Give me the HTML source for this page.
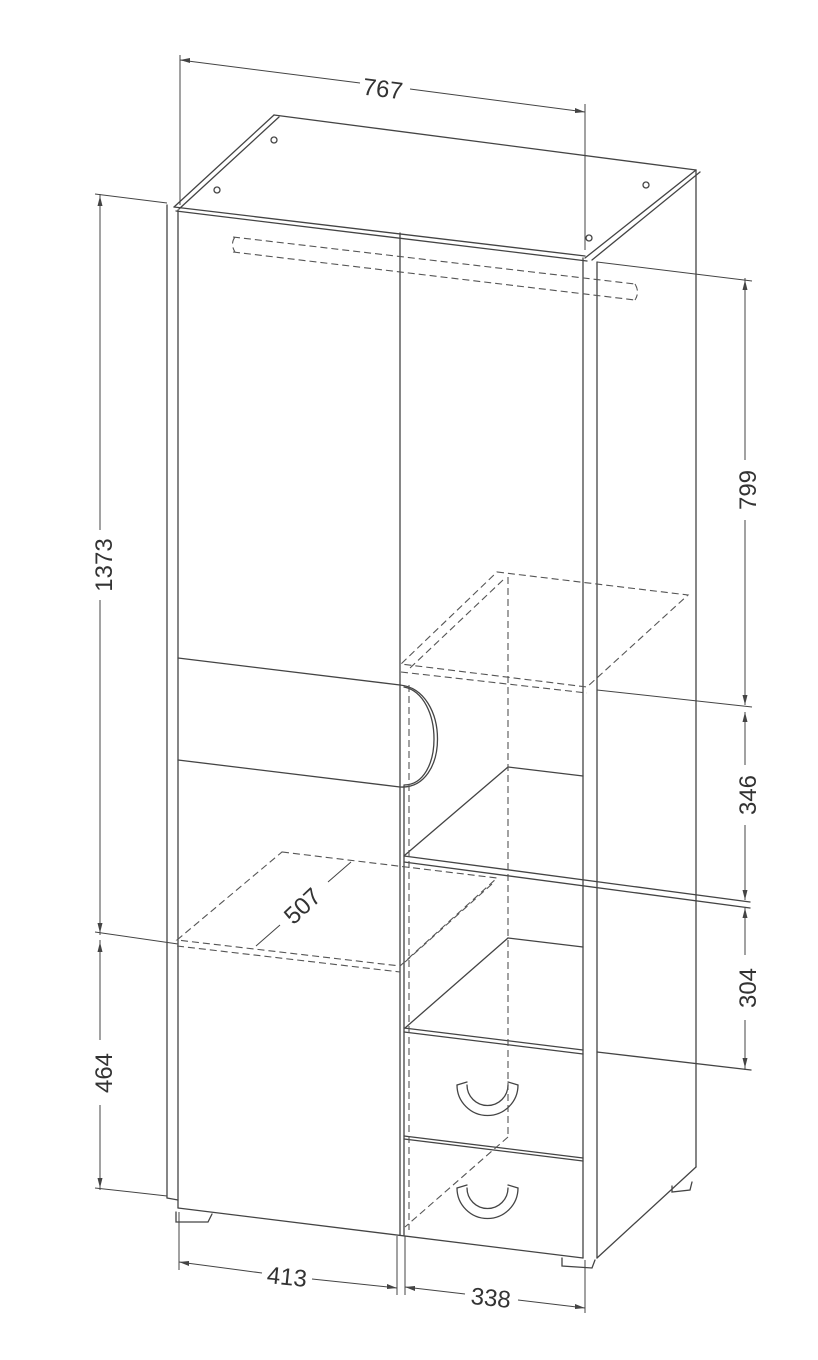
<!DOCTYPE html>
<html><head><meta charset="utf-8"><style>
html,body{margin:0;padding:0;background:#fff;}
svg{display:block;}
text{font-family:"Liberation Sans",sans-serif;font-size:24px;fill:#333;}
</style></head><body>
<svg width="818" height="1360" viewBox="0 0 818 1360" xmlns="http://www.w3.org/2000/svg">
<g stroke="#444" stroke-width="1.3" fill="none" stroke-linecap="round">
<!-- top surface -->
<line x1="174" y1="207" x2="274" y2="115"/>
<line x1="179" y1="209" x2="279" y2="117"/>
<line x1="274" y1="115" x2="696" y2="170"/>
<line x1="585" y1="258" x2="696" y2="170"/>
<line x1="592" y1="260" x2="700" y2="172"/>
<line x1="174" y1="207" x2="585" y2="256"/>
<line x1="176" y1="211" x2="587" y2="261"/>
<circle cx="274" cy="140" r="3"/><circle cx="217" cy="190" r="3"/>
<circle cx="646" cy="185" r="3"/><circle cx="589" cy="238" r="3"/>
<!-- left edge -->
<line x1="167" y1="205" x2="167" y2="1198"/>
<line x1="178" y1="210" x2="178" y2="1208"/>
<line x1="167" y1="1198" x2="178" y2="1200"/>
<!-- right panel -->
<line x1="583" y1="258" x2="583" y2="1258"/>
<line x1="597" y1="262" x2="597" y2="1258"/>
<line x1="696" y1="170" x2="696" y2="1167"/>
<line x1="696" y1="1167" x2="597" y2="1258"/>
<!-- middle divider -->
<line x1="400" y1="233" x2="400" y2="1235"/>
<line x1="404" y1="786" x2="404" y2="1235"/>
<!-- bottom -->
<line x1="178" y1="1208" x2="583" y2="1258"/>
<!-- feet -->
<path d="M176 1212 L176 1222 L208 1222 L212 1214"/>
<path d="M562 1258 L562 1266 L592 1268 L595 1260"/>
<path d="M672 1186 L672 1192 L690 1190 L692 1182"/>
<!-- left door lines and handle -->
<line x1="178" y1="658" x2="400" y2="685"/>
<line x1="178" y1="760" x2="400" y2="787"/>
<path d="M400 685 C450 690 450 790 400 787"/>
<path d="M404 687 C444 695 444 785 404 785"/>
<!-- right shelves -->
<line x1="508" y1="767" x2="583" y2="776"/>
<line x1="508" y1="767" x2="405" y2="855"/>
<line x1="404" y1="856" x2="750" y2="902"/>
<line x1="404" y1="862" x2="750" y2="908"/>
<line x1="508" y1="938" x2="583" y2="947"/>
<line x1="508" y1="938" x2="405" y2="1028"/>
<line x1="404" y1="1028" x2="583" y2="1050"/>
<line x1="404" y1="1032" x2="583" y2="1054"/>
<line x1="597" y1="1052" x2="751" y2="1070"/>
<line x1="404" y1="1136" x2="583" y2="1158"/>
<line x1="404" y1="1139" x2="583" y2="1161"/>
<!-- handles -->
<path d="M457 1085 A30 30 0 0 0 518 1085"/>
<path d="M467 1085 A20 20 0 0 0 508 1085"/>
<line x1="457" y1="1085" x2="467" y2="1082"/><line x1="508" y1="1082" x2="518" y2="1085"/>
<path d="M457 1188 A30 30 0 0 0 518 1188"/>
<path d="M467 1188 A20 20 0 0 0 508 1188"/>
<line x1="457" y1="1188" x2="467" y2="1185"/><line x1="508" y1="1185" x2="518" y2="1188"/>
</g>
<!-- dashed hidden lines -->
<g stroke="#555" stroke-width="1.1" fill="none" stroke-dasharray="7 4">
<path d="M233 237 L635 284"/><path d="M233 252 L635 300"/>
<path d="M235 237 Q230 244 235 252"/><path d="M635 284 Q640 292 635 300"/>
<path d="M497 572 L688 595 L587 687 L401 664 Z"/>
<path d="M503 580 L410 668"/>
<path d="M401 672 L587 693"/>
<line x1="508" y1="577" x2="508" y2="1137"/>
<line x1="508" y1="1137" x2="405" y2="1227"/>
<line x1="409" y1="685" x2="409" y2="1230"/>
<path d="M282 852 L497 878 L400 966 L177 940 Z"/>
<path d="M177 946 L400 972"/>
<path d="M492 884 L405 962"/>
</g>
<!-- dimension lines -->
<g stroke="#444" stroke-width="1" fill="none">
<line x1="180" y1="55" x2="180" y2="205"/>
<line x1="585" y1="104" x2="585" y2="250"/>
<line x1="180" y1="60" x2="360" y2="83"/>
<line x1="410" y1="89" x2="585" y2="112"/>
<line x1="597" y1="262" x2="752" y2="281"/>
<line x1="597" y1="690" x2="752" y2="707"/>
<line x1="745" y1="278" x2="745" y2="460"/>
<line x1="745" y1="520" x2="745" y2="705"/>
<line x1="745" y1="712" x2="745" y2="765"/>
<line x1="745" y1="825" x2="745" y2="900"/>
<line x1="745" y1="908" x2="745" y2="955"/>
<line x1="745" y1="1020" x2="745" y2="1070"/>
<line x1="95" y1="194" x2="167" y2="203"/>
<line x1="95" y1="932" x2="178" y2="944"/>
<line x1="95" y1="1188" x2="167" y2="1196"/>
<line x1="100" y1="194" x2="100" y2="530"/>
<line x1="100" y1="600" x2="100" y2="935"/>
<line x1="100" y1="940" x2="100" y2="1040"/>
<line x1="100" y1="1105" x2="100" y2="1190"/>
<line x1="179" y1="1212" x2="179" y2="1270"/>
<line x1="397" y1="1236" x2="397" y2="1295"/>
<line x1="405" y1="1236" x2="405" y2="1295"/>
<line x1="585" y1="1260" x2="585" y2="1313"/>
<line x1="179" y1="1262" x2="262" y2="1273"/>
<line x1="312" y1="1279" x2="397" y2="1288"/>
<line x1="405" y1="1287" x2="465" y2="1294"/>
<line x1="518" y1="1300" x2="585" y2="1308"/>
<line x1="256" y1="946" x2="280" y2="925"/>
<line x1="328" y1="882" x2="351" y2="862"/>
</g>
<g fill="#444">
<path d="M180 60 l10 -2 l0 5 z"/><path d="M585 112 l-10 -4 l0 5 z"/>
<path d="M745 280 l-2.5 10 l5 0 z"/><path d="M745 705 l-2.5 -10 l5 0 z"/>
<path d="M745 712 l-2.5 10 l5 0 z"/><path d="M745 900 l-2.5 -10 l5 0 z"/>
<path d="M745 908 l-2.5 10 l5 0 z"/><path d="M745 1068 l-2.5 -10 l5 0 z"/>
<path d="M100 196 l-2.5 10 l5 0 z"/><path d="M100 933 l-2.5 -10 l5 0 z"/>
<path d="M100 942 l-2.5 10 l5 0 z"/><path d="M100 1188 l-2.5 -10 l5 0 z"/>
<path d="M179 1262 l10 -1 l0 5 z"/><path d="M397 1288 l-10 -4 l0 5 z"/>
<path d="M405 1287 l10 -1 l0 5 z"/><path d="M585 1308 l-10 -4 l0 5 z"/>
</g>
<text x="383" y="97" text-anchor="middle" transform="rotate(7 383 88)">767</text>
<text x="0" y="0" text-anchor="middle" transform="translate(112 565) rotate(-90)">1373</text>
<text x="0" y="0" text-anchor="middle" transform="translate(112 1073) rotate(-90)">464</text>
<text x="0" y="0" text-anchor="middle" transform="translate(756 490) rotate(-90)">799</text>
<text x="0" y="0" text-anchor="middle" transform="translate(756 795) rotate(-90)">346</text>
<text x="0" y="0" text-anchor="middle" transform="translate(756 988) rotate(-90)">304</text>
<text x="0" y="0" text-anchor="middle" transform="translate(308 912) rotate(-43)">507</text>
<text x="287" y="1285" text-anchor="middle" transform="rotate(6 287 1277)">413</text>
<text x="491" y="1306" text-anchor="middle" transform="rotate(6 491 1297)">338</text>
</svg>
</body></html>
